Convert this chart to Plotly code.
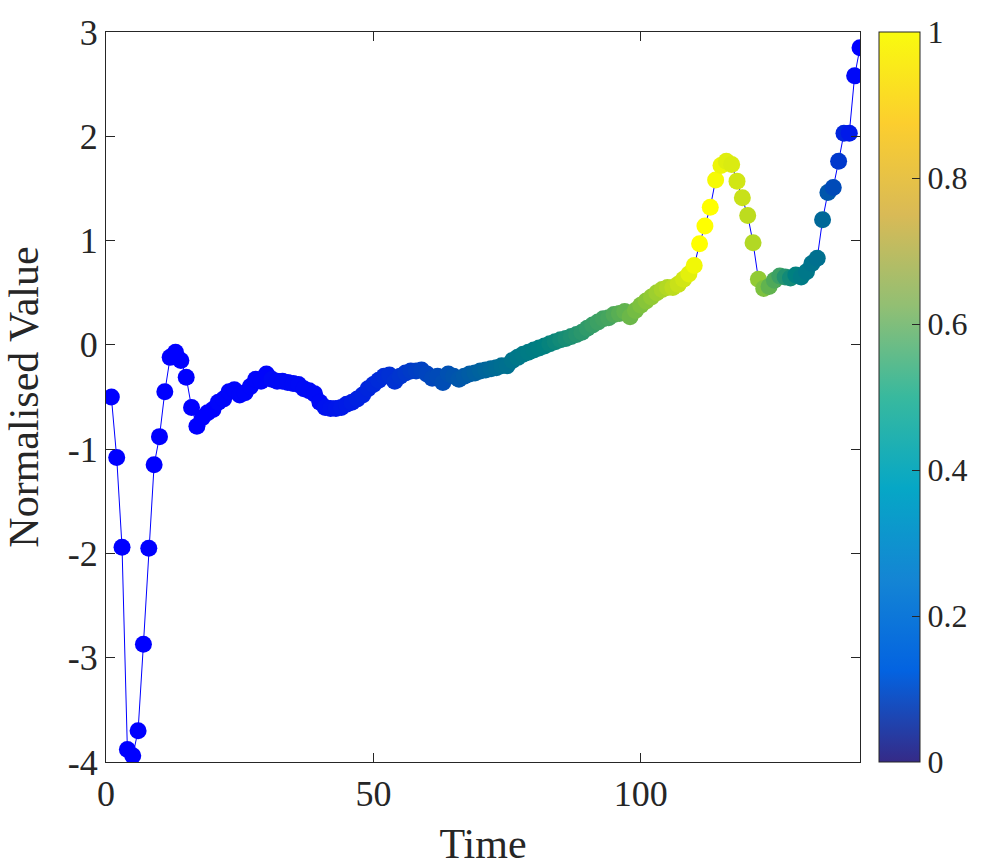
import plotly.graph_objects as go

time = list(range(1, 142))

values = [
    -0.50, -1.08, -1.94, -3.88, -3.94, -3.70, -2.87, -1.95, -1.15, -0.88,
    -0.45, -0.12, -0.07, -0.15, -0.31, -0.60, -0.78, -0.70, -0.65, -0.62,
    -0.55, -0.52, -0.45, -0.43, -0.48, -0.46, -0.40, -0.33, -0.35, -0.28,
    -0.33, -0.35, -0.35, -0.36, -0.37, -0.38, -0.42, -0.44, -0.47, -0.55,
    -0.60, -0.61, -0.61, -0.60, -0.57, -0.55, -0.52, -0.48, -0.42, -0.38,
    -0.34, -0.30, -0.29, -0.35, -0.30, -0.27, -0.25, -0.25, -0.24, -0.28,
    -0.32, -0.30, -0.36, -0.28, -0.30, -0.33, -0.30, -0.28, -0.27, -0.25,
    -0.24, -0.23, -0.22, -0.20, -0.20, -0.15, -0.12, -0.09, -0.07, -0.05,
    -0.03, -0.01, 0.01, 0.03, 0.05, 0.06, 0.08, 0.10, 0.12, 0.16,
    0.19, 0.22, 0.25, 0.26, 0.29, 0.30, 0.32, 0.27, 0.33, 0.38,
    0.42, 0.46, 0.50, 0.53, 0.55, 0.55, 0.58, 0.63, 0.68, 0.76,
    0.97, 1.14, 1.32, 1.58, 1.72, 1.76, 1.73, 1.57, 1.41, 1.24,
    0.98, 0.63, 0.54, 0.56, 0.62, 0.66, 0.65, 0.64, 0.67, 0.65,
    0.70, 0.78, 0.83, 1.20, 1.46, 1.51, 1.76, 2.03, 2.03, 2.58,
    2.85,
]

weights = (
    [0.00] * 20 + [0.02] * 10 + [0.04] * 10
    + [0.07, 0.08, 0.09, 0.10, 0.11]
    + [0.12, 0.13, 0.14, 0.15, 0.16, 0.17, 0.18, 0.19, 0.20, 0.21, 0.22, 0.23, 0.24, 0.25, 0.26]
    + [0.27, 0.28, 0.29, 0.30, 0.31, 0.32, 0.33, 0.34, 0.35, 0.36, 0.37, 0.38, 0.39, 0.40, 0.41, 0.43]
    + [0.45, 0.46, 0.47, 0.48, 0.49, 0.50, 0.51, 0.52, 0.53, 0.54, 0.55, 0.56, 0.57, 0.58, 0.59,
       0.60, 0.61, 0.62, 0.64]
    + [0.66, 0.68, 0.70, 0.72, 0.74, 0.76, 0.78, 0.80, 0.82, 0.84]
    + [0.86, 0.88, 0.90, 0.94, 0.97]
    + [1.00, 1.00, 1.00, 0.98, 0.96]
    + [0.93, 0.92, 0.90, 0.88, 0.86, 0.84]
    + [0.78, 0.74, 0.68, 0.64, 0.60]
    + [0.56, 0.53, 0.50, 0.47, 0.45, 0.43, 0.41]
    + [0.38, 0.32, 0.28, 0.22, 0.15, 0.10, 0.03, 0.00]
)

x_ticks = [0, 50, 100]
y_ticks = [-4, -3, -2, -1, 0, 1, 2, 3]
y_ticktext = ["-4", "-3", "-2", "-1", "0", "1", "2", "3"]
cbar_ticks = [0, 0.2, 0.4, 0.6, 0.8, 1]
cbar_ticktext = ["0", "0.2", "0.4", "0.6", "0.8", "1"]

marker_scale = [
    [0.0, "rgb(0,0,255)"],
    [0.2, "rgb(0,50,210)"],
    [0.4, "rgb(0,110,145)"],
    [0.5, "rgb(0,128,128)"],
    [0.6, "rgb(60,160,100)"],
    [0.75, "rgb(130,195,60)"],
    [0.88, "rgb(200,225,25)"],
    [1.0, "rgb(255,255,0)"],
]

parula = [
    [0.0, "rgb(53,42,135)"],
    [0.125, "rgb(3,99,225)"],
    [0.25, "rgb(20,133,212)"],
    [0.375, "rgb(6,167,198)"],
    [0.5, "rgb(56,185,158)"],
    [0.625, "rgb(146,191,115)"],
    [0.75, "rgb(217,186,86)"],
    [0.875, "rgb(252,206,46)"],
    [1.0, "rgb(249,251,14)"],
]

FONT = "Liberation Serif"
INK = "#262626"
TICK_SIZE = 36
CBAR_TICK_SIZE = 32
TITLE_SIZE = 42

fig = go.Figure()
fig.add_trace(go.Scatter(
    x=time, y=values, mode="lines",
    line=dict(color="#0000ff", width=1),
    showlegend=False, hoverinfo="skip",
))
fig.add_trace(go.Scatter(
    x=time, y=values, mode="markers",
    marker=dict(size=17, color=weights, colorscale=marker_scale,
                cmin=0, cmax=1, showscale=False, line=dict(width=0)),
    showlegend=False,
))
# colour bar (parula) as drawn in the reference
fig.add_trace(go.Scatter(
    x=[None], y=[None], mode="markers",
    marker=dict(color=[0, 1], colorscale=parula, cmin=0, cmax=1, showscale=True,
                colorbar=dict(
                    x=1.0252, xanchor="left", xpad=0,
                    y=0.5, yanchor="middle", len=1, lenmode="fraction", ypad=0,
                    thickness=41, thicknessmode="pixels",
                    outlinecolor=INK, outlinewidth=1,
                    tickvals=cbar_ticks, ticktext=cbar_ticktext,
                    ticks="inside", ticklen=8, tickcolor=INK,
                    tickfont=dict(family=FONT, size=CBAR_TICK_SIZE, color=INK),
                )),
    showlegend=False, hoverinfo="skip",
))

axis_common = dict(
    showgrid=False, zeroline=False, showline=True, linecolor=INK, linewidth=1,
    mirror="ticks", ticks="inside", ticklen=9, tickcolor=INK, automargin=False,
    tickfont=dict(family=FONT, size=TICK_SIZE, color=INK),
)

fig.update_layout(
    width=988, height=867,
    margin=dict(l=106, r=128, t=32, b=105),
    paper_bgcolor="white", plot_bgcolor="white",
    xaxis=dict(range=[0, 141], tickvals=x_ticks,
               title=dict(text="Time", font=dict(family=FONT, size=TITLE_SIZE, color=INK), standoff=16),
               **axis_common),
    yaxis=dict(range=[-4, 3], tickvals=y_ticks, ticktext=y_ticktext,
               title=dict(text="Normalised Value", font=dict(family=FONT, size=TITLE_SIZE, color=INK), standoff=16),
               **axis_common),
    font=dict(family=FONT, color=INK),
)

fig.write_html("out.html")
